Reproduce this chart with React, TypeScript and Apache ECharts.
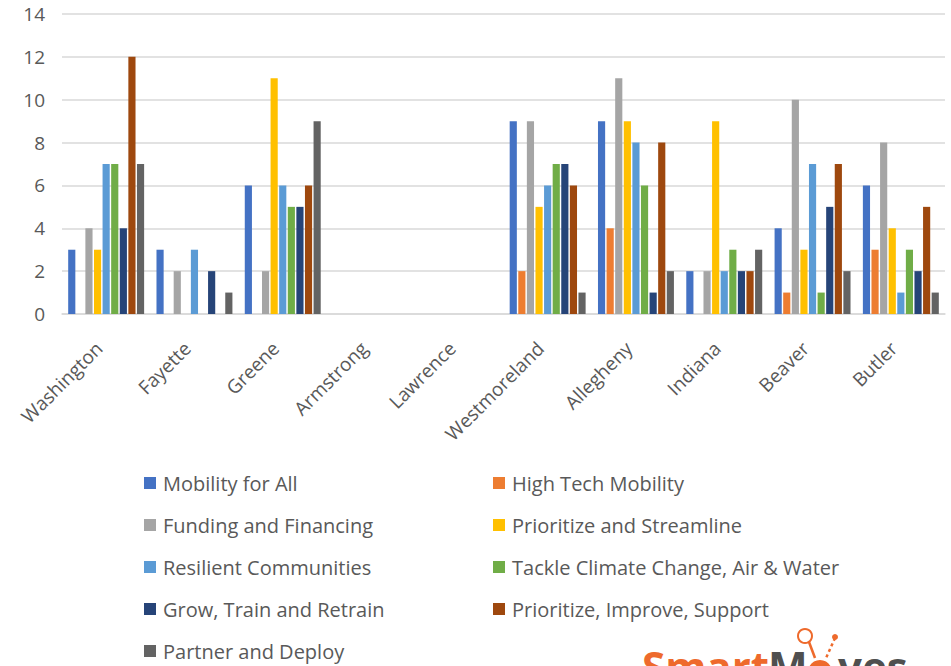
import React, { useEffect, useRef } from "react";
import * as echarts from "echarts";

const counties = ["Washington", "Fayette", "Greene", "Armstrong", "Lawrence", "Westmoreland", "Allegheny", "Indiana", "Beaver", "Butler"];
const seriesNames = [
  "Mobility for All",
  "High Tech Mobility",
  "Funding and Financing",
  "Prioritize and Streamline",
  "Resilient Communities",
  "Tackle Climate Change, Air & Water",
  "Grow, Train and Retrain",
  "Prioritize, Improve, Support",
  "Partner and Deploy",
];
const colors = ["#4472C4", "#ED7D31", "#A5A5A5", "#FFC000", "#5B9BD5", "#70AD47", "#264478", "#9E480E", "#636363"];

const mobilityForAll = [3, 3, 6, 0, 0, 9, 9, 2, 4, 6];
const highTechMobility = [0, 0, 0, 0, 0, 2, 4, 0, 1, 3];
const fundingFinancing = [4, 2, 2, 0, 0, 9, 11, 2, 10, 8];
const prioritizeStreamline = [3, 0, 11, 0, 0, 5, 9, 9, 3, 4];
const resilientCommunities = [7, 3, 6, 0, 0, 6, 8, 2, 7, 1];
const tackleClimate = [7, 0, 5, 0, 0, 7, 6, 3, 1, 3];
const growTrain = [4, 2, 5, 0, 0, 7, 1, 2, 5, 2];
const prioritizeImprove = [12, 0, 6, 0, 0, 6, 8, 2, 7, 5];
const partnerDeploy = [7, 1, 9, 0, 0, 1, 2, 3, 2, 1];

const allValues = [
  mobilityForAll,
  highTechMobility,
  fundingFinancing,
  prioritizeStreamline,
  resilientCommunities,
  tackleClimate,
  growTrain,
  prioritizeImprove,
  partnerDeploy,
];

const yTicks = { min: 0, max: 14, interval: 2 };

export default function App() {
  const ref = useRef<HTMLDivElement>(null);
  useEffect(() => {
    if (!ref.current) return;
    const chart = echarts.init(ref.current, null, { renderer: "svg" });
    const font = "'Open Sans', 'Noto Sans', sans-serif";
    const legendText = { fontSize: 20, color: "#595959", fontFamily: font, padding: [0, 0, 0, 2] };
    chart.setOption({
      animation: false,
      color: colors,
      textStyle: { fontFamily: font },
      grid: { left: 62, right: 6, top: 14, bottom: 352, containLabel: false },
      legend: [
        {
          orient: "vertical",
          left: 144,
          top: 473,
          height: 260,
          padding: 0,
          itemWidth: 12,
          itemHeight: 12,
          itemGap: 22,
          icon: "rect",
          textStyle: legendText,
          data: [0, 2, 4, 6, 8].map((i) => seriesNames[i]),
        },
        {
          orient: "vertical",
          left: 493,
          top: 473,
          height: 260,
          padding: 0,
          itemWidth: 12,
          itemHeight: 12,
          itemGap: 22,
          icon: "rect",
          textStyle: legendText,
          data: [1, 3, 5, 7].map((i) => seriesNames[i]),
        },
      ],
      xAxis: {
        type: "category",
        data: counties,
        axisLine: { show: true, lineStyle: { color: "#d9d9d9", width: 1.5 } },
        axisTick: { show: false },
        axisLabel: {
          rotate: 45,
          fontSize: 19,
          color: "#595959",
          margin: 24,
          padding: [0, 10, 0, 0],
          interval: 0,
          fontFamily: font,
        },
      },
      yAxis: {
        type: "value",
        min: yTicks.min,
        max: yTicks.max,
        interval: yTicks.interval,
        axisLine: { show: false },
        axisTick: { show: false },
        axisLabel: { fontSize: 19, color: "#595959", margin: 17, fontFamily: font },
        splitLine: { lineStyle: { color: "#d9d9d9", width: 1.5 } },
      },
      series: allValues.map((vals, i) => ({
        name: seriesNames[i],
        type: "bar",
        data: vals,
        barGap: "20%",
        barCategoryGap: "14%",
        itemStyle: { color: colors[i] },
      })),
      graphic: [
        {
          type: "text",
          left: 642,
          top: 644,
          style: { text: "Smart", font: "bold 42px 'Open Sans', sans-serif", fill: "#EE6A2C" },
        },
        {
          type: "text",
          left: 768,
          top: 644,
          style: { text: "M", font: "bold 42px 'Open Sans', sans-serif", fill: "#4F4F4F" },
        },
        {
          type: "text",
          left: 838,
          top: 644,
          style: { text: "ves", font: "bold 42px 'Open Sans', sans-serif", fill: "#4F4F4F" },
        },
        {
          type: "circle",
          shape: { cx: 820, cy: 672, r: 12 },
          style: { fill: "#EE6A2C" },
        },
        {
          type: "circle",
          shape: { cx: 805, cy: 636, r: 7 },
          style: { fill: "none", stroke: "#EE6A2C", lineWidth: 2 },
        },
        {
          type: "line",
          shape: { x1: 809, y1: 642, x2: 815, y2: 658 },
          style: { stroke: "#EE6A2C", lineWidth: 2.5 },
        },
        {
          type: "line",
          shape: { x1: 835, y1: 638, x2: 826, y2: 658 },
          style: { stroke: "#EE6A2C", lineWidth: 2.5, lineDash: [3, 3] },
        },
        {
          type: "circle",
          shape: { cx: 835, cy: 637, r: 3 },
          style: { fill: "#EE6A2C" },
        },
      ],
    });
    return () => chart.dispose();
  }, []);
  return <div ref={ref} style={{ position: "absolute", left: 0, top: 0, width: 951, height: 666 }} />;
}
